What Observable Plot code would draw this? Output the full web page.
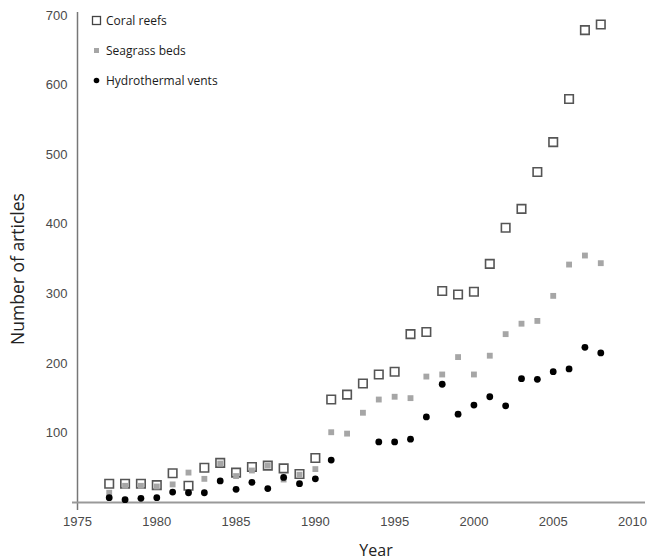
<!DOCTYPE html>
<html>
<head>
<meta charset="utf-8">
<script src="https://cdn.jsdelivr.net/npm/d3@7"></script>
<script src="https://cdn.jsdelivr.net/npm/@observablehq/plot@0.6"></script>
<style>
  body { margin: 0; background: #fff; }
  #wrap { position: relative; width: 650px; height: 559px; }
  #legend { position: absolute; left: 89px; top: 13px; font-family: "Open Sans", sans-serif; font-size: 12px; color: #1a1a1a; }
  #legend .row { display: flex; align-items: center; height: 15px; margin-bottom: 15px; }
  #legend svg { width: 16px; height: 15px; }
</style>
</head>
<body>
<div id="wrap">
  <div id="chart"></div>
  <div id="legend"></div>
</div>
<script>
const years = [1977,1978,1979,1980,1981,1982,1983,1984,1985,1986,1987,1988,1989,1990,1991,1992,1993,1994,1995,1996,1997,1998,1999,2000,2001,2002,2003,2004,2005,2006,2007,2008];
const coralReefs = [27,27,27,25,42,24,50,57,43,51,53,49,41,64,148,155,171,184,188,242,245,304,299,303,343,395,422,475,518,580,679,687];
const seagrassBeds = [14,24,24,23,26,43,34,56,38,46,53,33,40,48,101,99,129,148,152,150,181,184,209,184,211,242,257,261,297,342,355,344];
// null = no point shown for that year
const hydrothermalVents = [7,4,6,7,15,14,14,31,19,29,20,36,27,34,61,null,null,87,87,91,123,170,127,140,152,139,178,177,188,192,223,215];
const xTicks = [1975,1980,1985,1990,1995,2000,2005,2010];
const yTicks = [100,200,300,400,500,600,700];
const seriesNames = ["Coral reefs","Seagrass beds","Hydrothermal vents"];

const coral = years.map((y,i) => ({year: y, value: coralReefs[i]}));
const seagrass = years.map((y,i) => ({year: y, value: seagrassBeds[i]}));
const vents = years.map((y,i) => ({year: y, value: hydrothermalVents[i]})).filter(d => d.value != null);

const chart = Plot.plot({
  width: 650,
  height: 559,
  marginLeft: 77,
  marginRight: 18,
  marginTop: 15,
  marginBottom: 57,
  style: {fontFamily: "'Liberation Sans', Arial, sans-serif", fontSize: "13px", color: "#4a4a4a", background: "#fff"},
  x: {domain: [1975, 2010], ticks: xTicks, tickFormat: d => String(d), tickSize: 0, tickPadding: 14, label: null},
  y: {domain: [0, 700], ticks: yTicks, tickSize: 0, tickPadding: 10, label: null},
  marks: [
    Plot.ruleX([1975], {stroke: "#777", strokeWidth: 1.5, insetBottom: -8, insetTop: -3}),
    Plot.ruleY([0], {stroke: "#999", strokeWidth: 2.2, insetLeft: -5, insetRight: -13}),
    Plot.dot(coral, {x: "year", y: "value", symbol: "square", r: 4.8, stroke: "#555", strokeWidth: 1.6, fill: "none"}),
    Plot.dot(seagrass, {x: "year", y: "value", symbol: "square", r: 3.3, fill: "#a6a6a6", stroke: "none"}),
    Plot.dot(vents, {x: "year", y: "value", symbol: "circle", r: 3.4, fill: "#000", stroke: "none"}),
    Plot.text(["Year"], {frameAnchor: "bottom", dy: 53, dx: 21, text: d => d, fontFamily: "'Open Sans', sans-serif", fontSize: 16, fill: "#222"}),
    Plot.text(["Number of articles"], {frameAnchor: "left", textAnchor: "middle", dx: -59, dy: 10, rotate: -90, text: d => d, fontFamily: "'Open Sans', sans-serif", fontSize: 17.5, fill: "#222"})
  ]
});
document.getElementById("chart").appendChild(chart);

const symbols = [
  '<rect x="3.5" y="3.5" width="8" height="8" fill="none" stroke="#444" stroke-width="1.3"/>',
  '<rect x="5" y="5" width="5" height="5" fill="#a6a6a6"/>',
  '<circle cx="7.5" cy="7.5" r="2.8" fill="#000"/>'
];
const legend = document.getElementById("legend");
seriesNames.forEach((name, i) => {
  const row = document.createElement("div");
  row.className = "row";
  row.innerHTML = `<svg viewBox="0 0 16 15">${symbols[i]}</svg><span style="margin-left:1px">${name}</span>`;
  legend.appendChild(row);
});
</script>
</body>
</html>
